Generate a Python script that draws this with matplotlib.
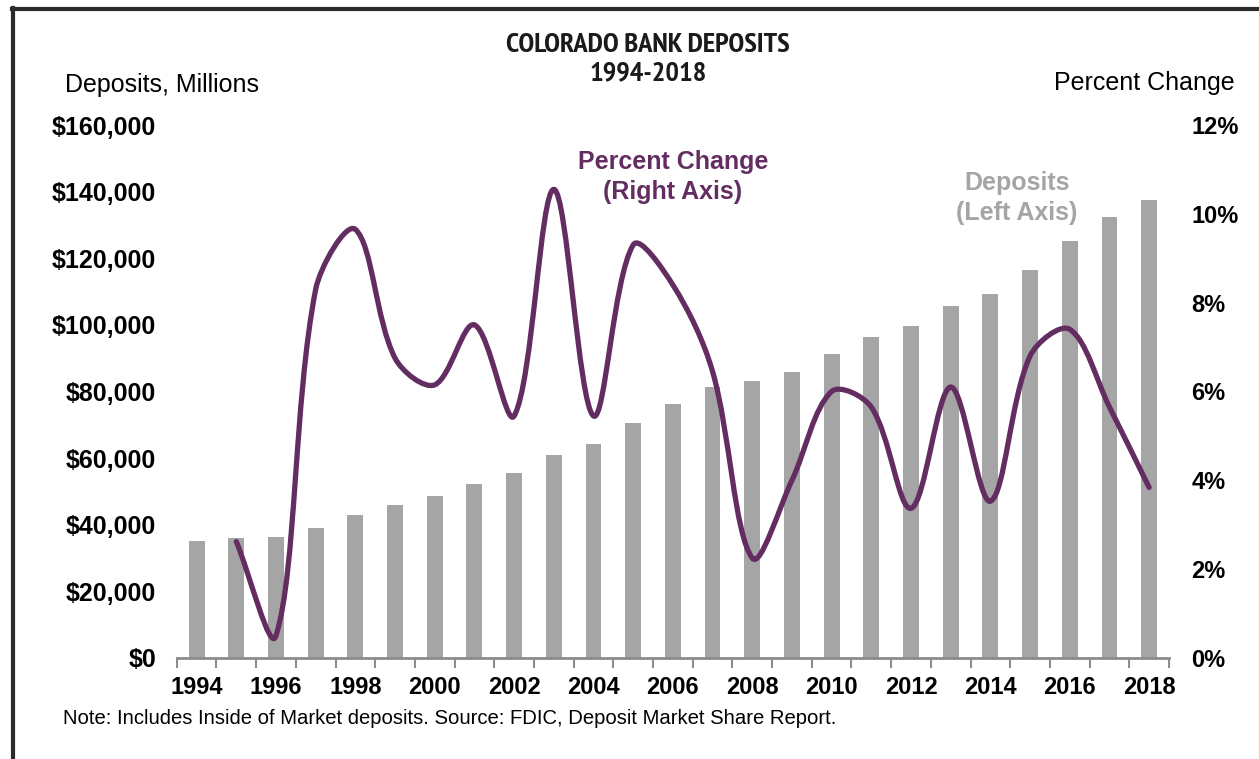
import numpy as np
import matplotlib
matplotlib.use("Agg")
import matplotlib.pyplot as plt
from matplotlib import font_manager
from matplotlib.path import Path
from matplotlib.patches import PathPatch
from matplotlib.lines import Line2D
from matplotlib.ticker import FuncFormatter

plt.rcParams["font.family"] = ["Liberation Sans", "DejaVu Sans"]

# ── Data ────────────────────────────────────────────────────────────────
years = list(range(1994, 2019))
deposits = [35100, 35900, 36200, 39000, 42900, 45800, 48600, 52200, 55500,
            61000, 64300, 70400, 76200, 81200, 83100, 85900, 91200, 96300,
            99600, 105600, 109200, 116600, 125100, 132400, 137400]
pct_years = list(range(1995, 2019))
pct_change = [2.62, 0.5, 8.3, 9.65, 6.75, 6.15, 7.5, 5.45, 10.55, 5.45, 9.3,
              8.4, 6.45, 2.25, 4.0, 6.0, 5.65, 3.37, 6.1, 3.53, 6.8, 7.4,
              5.65, 3.84]
left_ticks = [0, 20000, 40000, 60000, 80000, 100000, 120000, 140000, 160000]
right_ticks = [0, 2, 4, 6, 8, 10, 12]

BAR_COLOR = "#a5a5a5"
LINE_COLOR = "#632d62"
AXIS_COLOR = "#8c8c8c"


def narrow_bold_font():
    """Pick a condensed bold face for the title if one is installed."""
    entries = font_manager.fontManager.ttflist
    for key in ("Narrow", "Condensed", "Cond"):
        for fe in entries:
            fn = fe.fname.replace("-", "").replace("_", "")
            if key in fn and "Bold" in fn and "Italic" not in fn \
                    and "Oblique" not in fn and "Extra" not in fn \
                    and "Semi" not in fn and "Mono" not in fn:
                return font_manager.FontProperties(fname=fe.fname), True
    return font_manager.FontProperties(family="Liberation Sans",
                                       weight="bold"), False


def smooth_path(axis, xs, ys):
    """Smoothed line like a spreadsheet's: Bezier segments whose tangents
    are split by neighbouring segment lengths (measured on screen)."""
    trans = axis.transData
    pts = trans.transform(np.column_stack([xs, ys]).astype(float))
    n = len(pts)
    seg = np.hypot(*np.diff(pts, axis=0).T)
    verts = [pts[0]]
    codes = [Path.MOVETO]
    for i in range(n - 1):
        p1, p2 = pts[i], pts[i + 1]
        if i > 0:
            t1 = (p2 - pts[i - 1]) * seg[i] / (seg[i - 1] + seg[i]) / 3.0
        else:
            t1 = (p2 - p1) / 3.0
        if i + 2 < n:
            t2 = (pts[i + 2] - p1) * seg[i] / (seg[i] + seg[i + 1]) / 3.0
        else:
            t2 = (p2 - p1) / 3.0
        verts += [p1 + t1, p2 - t2, p2]
        codes += [Path.CURVE4] * 3
    return Path(trans.inverted().transform(np.array(verts)), codes)


fig = plt.figure(figsize=(12.59, 7.59), dpi=100)
ax = fig.add_axes([0.1404, 0.1331, 0.7881, 0.7022])
ax2 = ax.twinx()

idx = np.arange(len(years))
ax.bar(idx, deposits, width=0.4, color=BAR_COLOR, zorder=2)
ax.set_xlim(-0.5, len(years) - 0.5)
ax.set_ylim(0, 160000)
ax.set_yticks(left_ticks)
ax.yaxis.set_major_formatter(FuncFormatter(lambda v, p: f"${v:,.0f}"))
ax.tick_params(axis="y", length=0, pad=15, labelsize=18)
for lbl in ax.get_yticklabels():
    lbl.set_fontweight("bold")

# category boundaries get the tick marks, even years get the labels
ax.set_xticks(np.arange(-0.5, len(years), 1))
ax.set_xticklabels([])
ax.tick_params(axis="x", which="major", length=7, width=1.5,
               color=AXIS_COLOR, direction="out")
ax.set_xticks(idx[::2], minor=True)
ax.set_xticklabels([str(y) for y in years[::2]], minor=True,
                   fontsize=17, fontweight="bold")
ax.tick_params(axis="x", which="minor", length=0, pad=13)

for side in ["top", "left", "right"]:
    ax.spines[side].set_visible(False)
    ax2.spines[side].set_visible(False)
ax2.spines["bottom"].set_visible(False)
ax.spines["bottom"].set_color(AXIS_COLOR)
ax.spines["bottom"].set_linewidth(2)

# percent change line on the right axis
ax2.set_xlim(ax.get_xlim())
ax2.set_ylim(0, 12)
px = [years.index(y) for y in pct_years]
ax2.add_patch(PathPatch(smooth_path(ax2, px, pct_change), facecolor="none",
                        edgecolor=LINE_COLOR, lw=3.8, capstyle="round",
                        zorder=3))
ax2.set_yticks(right_ticks)
ax2.set_yticklabels([f"{t}%" for t in right_ticks], fontsize=17,
                    fontweight="bold")
ax2.tick_params(axis="y", length=0, pad=16)

ax.text(12.0, 144300, "Percent Change\n(Right Axis)", ha="center",
        va="center", fontsize=18, fontweight="bold", color=LINE_COLOR,
        linespacing=1.3, zorder=4)
ax.text(20.67, 138000, "Deposits\n(Left Axis)", ha="center", va="center",
        fontsize=18, fontweight="bold", color=BAR_COLOR, linespacing=1.3,
        zorder=4)

# titles and axis captions
title_font, is_narrow = narrow_bold_font()
title_font.set_size(20.5 if is_narrow else 15.5)
fig.text(0.5147, 1 - 59 / 759, "COLORADO BANK DEPOSITS\n1994-2018",
         ha="center", va="center", fontproperties=title_font,
         color="#1a1a1a", linespacing=1.25)
fig.text(65 / 1259, 1 - 85 / 759, "Deposits, Millions", ha="left",
         va="center", fontsize=18)
fig.text(1235 / 1259, 1 - 83 / 759, "Percent Change", ha="right",
         va="center", fontsize=18)
fig.text(63 / 1259, 1 - 718 / 759,
         "Note: Includes Inside of Market deposits. Source: FDIC, "
         "Deposit Market Share Report.",
         ha="left", va="center", fontsize=14.6)

# frame on the left and top edges
fig.add_artist(Line2D([13 / 1259, 13 / 1259], [0, 1 - 8 / 759],
                      transform=fig.transFigure, color="#2b2b2b", lw=3))
fig.add_artist(Line2D([12 / 1259, 1], [1 - 9 / 759, 1 - 9 / 759],
                      transform=fig.transFigure, color="#2b2b2b", lw=3))

fig.savefig("out.png", dpi=100)
